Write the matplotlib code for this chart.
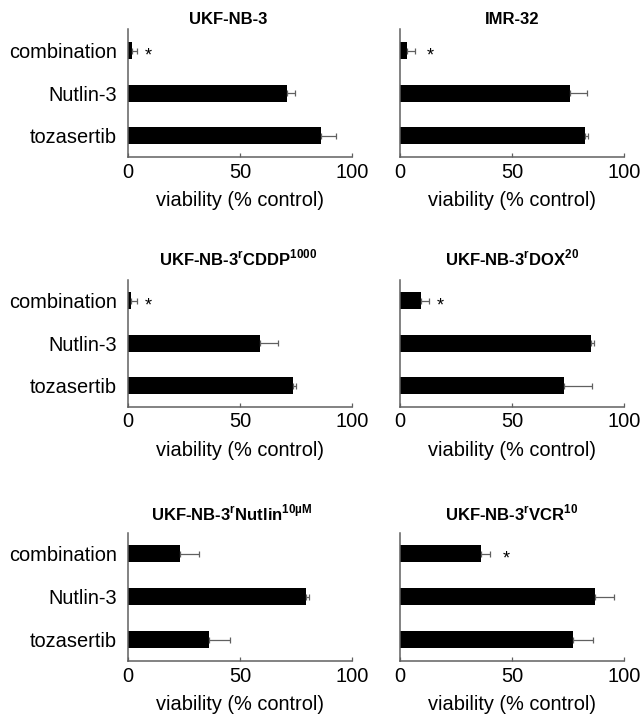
import matplotlib
matplotlib.use("Agg")
import matplotlib.pyplot as plt
import matplotlib.transforms as mtransforms

plt.rcParams['font.family'] = ['Liberation Sans', 'DejaVu Sans']
plt.rcParams['mathtext.fontset'] = 'custom'
plt.rcParams['mathtext.rm'] = 'Liberation Sans'
plt.rcParams['mathtext.bf'] = 'Liberation Sans:bold'

categories = ['combination', 'Nutlin-3', 'tozasertib']

titles = [
    r'UKF-NB-3',
    r'IMR-32',
    r'UKF-NB-3$^{\mathbf{r}}$CDDP$^{\mathbf{1000}}$',
    r'UKF-NB-3$^{\mathbf{r}}$DOX$^{\mathbf{20}}$',
    r'UKF-NB-3$^{\mathbf{r}}$Nutlin$^{\mathbf{10µM}}$',
    r'UKF-NB-3$^{\mathbf{r}}$VCR$^{\mathbf{10}}$',
]

ukf_nb3 = [1.8, 71.1, 86.2]
ukf_nb3_err = [2.1, 3.6, 6.7]
imr32 = [3.1, 76.1, 82.5]
imr32_err = [3.6, 7.4, 1.5]
cddp = [1.5, 58.9, 73.8]
cddp_err = [2.5, 8.2, 1.2]
dox = [9.4, 85.4, 73.4]
dox_err = [3.7, 1.2, 12.4]
nutlin = [23.1, 79.5, 36.2]
nutlin_err = [8.6, 1.3, 9.1]
vcr = [36.2, 87.2, 77.3]
vcr_err = [4.2, 8.2, 8.8]

values = [ukf_nb3, imr32, cddp, dox, nutlin, vcr]
errors = [ukf_nb3_err, imr32_err, cddp_err, dox_err, nutlin_err, vcr_err]
star_x = [8.9, 13.3, 8.9, 18.1, None, 47.6]

xticks = [0, 50, 100]

fig = plt.figure(figsize=(6.42, 7.14), dpi=100)

lefts = [0.1994, 0.623]
bottoms = [0.780, 0.4304, 0.0742]
heights = [0.1789, 0.178, 0.180]
title_pads = [4.0, 10.0, 9.0]
title_x_left = [0.445, 0.49, 0.465]
width = 0.349

grey = '#606060'
ypos = list(range(len(categories)))

for i in range(6):
    r, c = divmod(i, 2)
    ax = fig.add_axes([lefts[c], bottoms[r], width, heights[r]])
    ax.barh(ypos, values[i], height=0.40, color='black',
            xerr=[[0] * 3, errors[i]],
            error_kw=dict(ecolor=grey, elinewidth=0.9, capsize=2, capthick=0.9))
    ax.set_ylim(2.5, -0.5)
    ax.set_xlim(0, 100)
    ax.set_xticks(xticks)
    ax.set_xticklabels([str(t) for t in xticks])
    ax.tick_params(axis='x', direction='in', length=3, width=0.9, color=grey,
                   labelsize=14.4, pad=4)
    ax.tick_params(axis='y', length=0, labelsize=14.4, pad=8)
    if c == 0:
        ax.set_yticks(ypos)
        ax.set_yticklabels(categories)
    else:
        ax.set_yticks([])
    for s in ['top', 'right']:
        ax.spines[s].set_visible(False)
    for s in ['left', 'bottom']:
        ax.spines[s].set_color(grey)
        ax.spines[s].set_linewidth(1.1)
    ax.set_xlabel('viability (% control)', fontsize=14.4, labelpad=7)
    t = ax.set_title(titles[i], fontsize=12, fontweight='bold', pad=title_pads[r])
    if c == 0:
        t.set_x(title_x_left[r])
    if star_x[i] is not None:
        off = mtransforms.offset_copy(ax.transData, fig=fig, x=0, y=-3.5, units='points')
        ax.text(star_x[i], 0, '*', fontsize=13, ha='center', va='center',
                transform=off, color='black')

fig.savefig('out.png', dpi=100)
